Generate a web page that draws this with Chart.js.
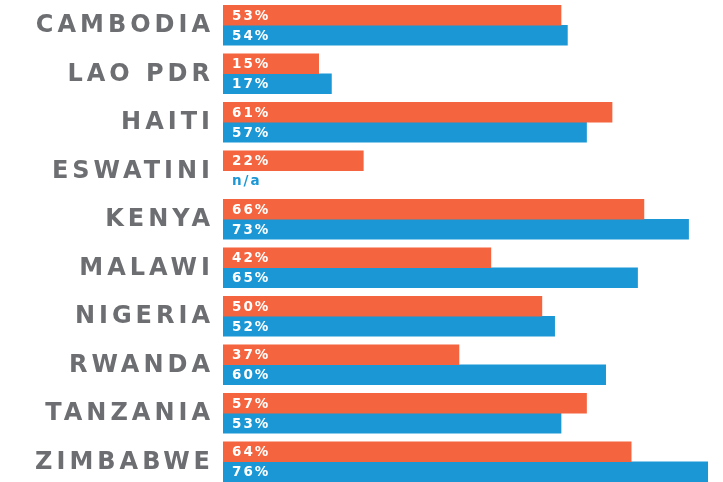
<!DOCTYPE html>
<html>
<head>
<meta charset="utf-8">
<script src="https://cdn.jsdelivr.net/npm/chart.js@4"></script>
<style>
  html, body { margin: 0; padding: 0; background: #fff; overflow: hidden; }
  #wrap { position: relative; width: 723px; height: 486px; }
</style>
</head>
<body>
<div id="wrap"><canvas id="chart"></canvas></div>
<script>
const countries = ['CAMBODIA', 'LAO PDR', 'HAITI', 'ESWATINI', 'KENYA', 'MALAWI', 'NIGERIA', 'RWANDA', 'TANZANIA', 'ZIMBABWE'];
const seriesA = [53, 15, 61, 22, 66, 42, 50, 37, 57, 64];
const seriesB = [54, 17, 57, null, 73, 65, 52, 60, 53, 76];

const orange = '#f4643f';
const blue = '#1b97d5';
const grey = '#6d6e71';

// country names on the left, spaced out like the original
const countryLabels = {
    id: 'countryLabels',
    afterDraw(chart) {
        const ctx = chart.ctx;
        const y = chart.scales.y;
        ctx.save();
        ctx.font = 'bold 24px "DejaVu Sans"';
        ctx.fillStyle = grey;
        ctx.textAlign = 'right';
        ctx.textBaseline = 'middle';
        ctx.letterSpacing = '4px';
        countries.forEach((name, i) => {
            ctx.fillText(name, 214, y.getPixelForValue(i) + 1);
        });
        ctx.restore();
    }
};

// percent values inside the bars, "n/a" for missing
const valueLabels = {
    id: 'valueLabels',
    afterDatasetsDraw(chart) {
        const ctx = chart.ctx;
        ctx.save();
        ctx.font = 'bold 13.5px "DejaVu Sans"';
        ctx.textAlign = 'left';
        ctx.textBaseline = 'middle';
        ctx.letterSpacing = '2px';
        chart.data.datasets.forEach((ds, di) => {
            const meta = chart.getDatasetMeta(di);
            meta.data.forEach((bar, i) => {
                const v = ds.data[i];
                const yPos = chart.scales.y.getPixelForValue(i) + (di === 0 ? -10 : 10) + 1;
                if (v === null) {
                    ctx.fillStyle = blue;
                    ctx.fillText('n/a', chart.chartArea.left + 9, yPos);
                } else {
                    ctx.fillStyle = '#fff';
                    ctx.fillText(v + '%', chart.chartArea.left + 9, yPos);
                }
            });
        });
        ctx.restore();
    }
};

new Chart(document.getElementById('chart'), {
    type: 'bar',
    data: {
        labels: countries,
        datasets: [
            { data: seriesA, backgroundColor: orange, barThickness: 20 },
            { data: seriesB, backgroundColor: blue, barThickness: 20 }
        ]
    },
    options: {
        indexAxis: 'y',
        responsive: true,
        maintainAspectRatio: false,
        animation: false,
        layout: { padding: { left: 223, right: 0, top: 1, bottom: 0 } },
        plugins: {
            legend: { display: false },
            tooltip: { enabled: false }
        },
        scales: {
            x: { display: false, min: 0, max: 78.4 },
            y: { display: false }
        }
    },
    plugins: [countryLabels, valueLabels]
});
</script>
</body>
</html>
